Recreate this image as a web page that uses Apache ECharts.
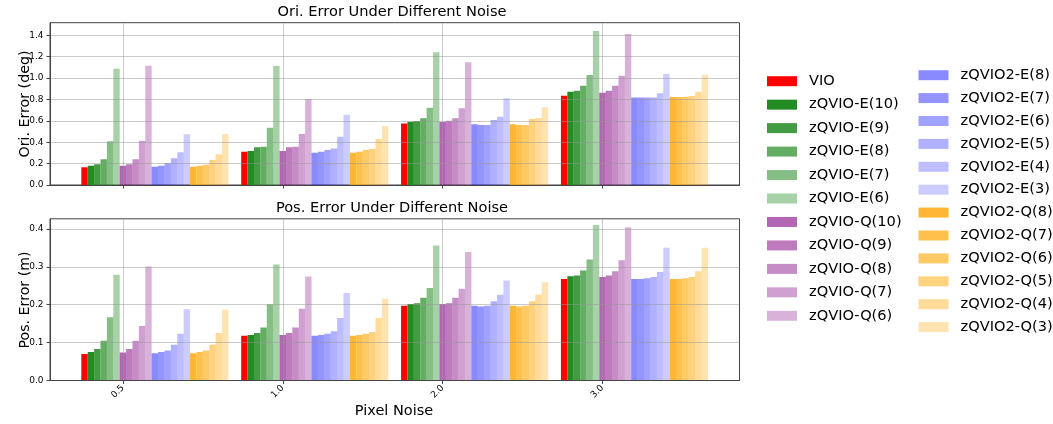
<!DOCTYPE html>
<html><head><meta charset="utf-8">
<script src="https://cdn.jsdelivr.net/npm/echarts@6/dist/echarts.min.js"></script>
<style>html,body{margin:0;padding:0;background:#fff}#c{width:1053px;height:424px}</style>
</head><body><div id="c"></div>
<script>
// ---------------- DATA ----------------
const categories = ['0.5', '1.0', '2.0', '3.0'];
const seriesNames = ['VIO',
  'zQVIO-E(10)', 'zQVIO-E(9)', 'zQVIO-E(8)', 'zQVIO-E(7)', 'zQVIO-E(6)',
  'zQVIO-Q(10)', 'zQVIO-Q(9)', 'zQVIO-Q(8)', 'zQVIO-Q(7)', 'zQVIO-Q(6)',
  'zQVIO2-E(8)', 'zQVIO2-E(7)', 'zQVIO2-E(6)', 'zQVIO2-E(5)', 'zQVIO2-E(4)', 'zQVIO2-E(3)',
  'zQVIO2-Q(8)', 'zQVIO2-Q(7)', 'zQVIO2-Q(6)', 'zQVIO2-Q(5)', 'zQVIO2-Q(4)', 'zQVIO2-Q(3)'];

// Orientation error (deg)
const ori_VIO   = [0.165, 0.311, 0.576, 0.835];
const ori_E10   = [0.180, 0.318, 0.592, 0.872];
const ori_E9    = [0.193, 0.352, 0.598, 0.882];
const ori_E8    = [0.240, 0.358, 0.623, 0.928];
const ori_E7    = [0.408, 0.536, 0.723, 1.028];
const ori_E6    = [1.087, 1.112, 1.240, 1.439];
const ori_Q10   = [0.180, 0.318, 0.589, 0.863];
const ori_Q9    = [0.193, 0.352, 0.601, 0.882];
const ori_Q8    = [0.240, 0.358, 0.623, 0.928];
const ori_Q7    = [0.414, 0.477, 0.717, 1.022];
const ori_Q6    = [1.115, 0.804, 1.147, 1.411];
const ori_E2_8  = [0.171, 0.302, 0.567, 0.819];
const ori_E2_7  = [0.180, 0.311, 0.561, 0.819];
const ori_E2_6  = [0.203, 0.327, 0.561, 0.819];
const ori_E2_5  = [0.249, 0.340, 0.607, 0.819];
const ori_E2_4  = [0.305, 0.452, 0.638, 0.857];
const ori_E2_3  = [0.474, 0.657, 0.810, 1.037];
const ori_Q2_8  = [0.171, 0.302, 0.567, 0.822];
const ori_Q2_7  = [0.180, 0.311, 0.561, 0.822];
const ori_Q2_6  = [0.190, 0.327, 0.561, 0.825];
const ori_Q2_5  = [0.234, 0.336, 0.617, 0.832];
const ori_Q2_4  = [0.287, 0.430, 0.626, 0.872];
const ori_Q2_3  = [0.477, 0.551, 0.726, 1.031];

// Position error (m)
const pos_VIO   = [0.070, 0.118, 0.197, 0.268];
const pos_E10   = [0.075, 0.120, 0.202, 0.275];
const pos_E9    = [0.083, 0.125, 0.204, 0.277];
const pos_E8    = [0.105, 0.140, 0.218, 0.290];
const pos_E7    = [0.167, 0.201, 0.244, 0.319];
const pos_E6    = [0.279, 0.306, 0.356, 0.410];
const pos_Q10   = [0.074, 0.120, 0.202, 0.273];
const pos_Q9    = [0.083, 0.125, 0.204, 0.277];
const pos_Q8    = [0.105, 0.140, 0.218, 0.288];
const pos_Q7    = [0.144, 0.189, 0.242, 0.317];
const pos_Q6    = [0.301, 0.274, 0.339, 0.404];
const pos_E2_8  = [0.072, 0.118, 0.197, 0.268];
const pos_E2_7  = [0.075, 0.120, 0.195, 0.268];
const pos_E2_6  = [0.079, 0.123, 0.197, 0.270];
const pos_E2_5  = [0.094, 0.130, 0.209, 0.273];
const pos_E2_4  = [0.123, 0.165, 0.226, 0.286];
const pos_E2_3  = [0.188, 0.231, 0.264, 0.350];
const pos_Q2_8  = [0.072, 0.118, 0.197, 0.268];
const pos_Q2_7  = [0.075, 0.120, 0.195, 0.268];
const pos_Q2_6  = [0.079, 0.123, 0.197, 0.270];
const pos_Q2_5  = [0.094, 0.128, 0.209, 0.273];
const pos_Q2_4  = [0.125, 0.165, 0.226, 0.288];
const pos_Q2_3  = [0.187, 0.216, 0.259, 0.350];

const oriTicks = [0, 0.2, 0.4, 0.6, 0.8, 1.0, 1.2, 1.4];
const posTicks = [0, 0.1, 0.2, 0.3, 0.4];

const oriSeries = [ori_VIO, ori_E10, ori_E9, ori_E8, ori_E7, ori_E6, ori_Q10, ori_Q9, ori_Q8, ori_Q7, ori_Q6,
  ori_E2_8, ori_E2_7, ori_E2_6, ori_E2_5, ori_E2_4, ori_E2_3, ori_Q2_8, ori_Q2_7, ori_Q2_6, ori_Q2_5, ori_Q2_4, ori_Q2_3];
const posSeries = [pos_VIO, pos_E10, pos_E9, pos_E8, pos_E7, pos_E6, pos_Q10, pos_Q9, pos_Q8, pos_Q7, pos_Q6,
  pos_E2_8, pos_E2_7, pos_E2_6, pos_E2_5, pos_E2_4, pos_E2_3, pos_Q2_8, pos_Q2_7, pos_Q2_6, pos_Q2_5, pos_Q2_4, pos_Q2_3];

// ---------------- STYLE ----------------
const rgba = (c, a) => `rgba(${c[0]},${c[1]},${c[2]},${a})`;
const colors = [rgba([255, 0, 0], 1)]
  .concat([1, 0.85, 0.7, 0.55, 0.4].map(a => rgba([34, 139, 34], a)))
  .concat([0.6, 0.52, 0.45, 0.37, 0.3].map(a => rgba([128, 0, 128], a)))
  .concat([0.46, 0.42, 0.37, 0.31, 0.26, 0.2].map(a => rgba([0, 0, 255], a)))
  .concat([0.8, 0.7, 0.6, 0.5, 0.4, 0.3].map(a => rgba([255, 165, 0], a)));

const BAR_W = 0.04;
const BAR_OFFSET = -0.26;
const FONT = 'DejaVu Sans';
const GRID_LINE = 'rgba(150,150,150,0.5)';
const FRAME = '#444';
const PLOT_CX = 394;

function makeSeries(k, arr, gi) {
  return {
    type: 'custom', name: seriesNames[k], xAxisIndex: gi, yAxisIndex: gi,
    z: 1, clip: true,
    itemStyle: { color: colors[k] },
    encode: { x: 0, y: 1 },
    data: arr.map((v, i) => [i, v]),
    renderItem: function (params, api) {
      const c = api.value(0), v = api.value(1);
      const x0 = c + BAR_OFFSET + k * BAR_W;
      const p0 = api.coord([x0, v]);
      const p1 = api.coord([x0 + BAR_W, 0]);
      return { type: 'rect', shape: { x: p0[0], y: p0[1], width: p1[0] - p0[0], height: p1[1] - p0[1] },
        style: { fill: colors[k] } };
    }
  };
}

function xAxis(gi, showLabel) {
  return {
    type: 'value', gridIndex: gi, min: -0.456, max: 3.857, z: 5,
    axisLine: { show: true, onZero: false, lineStyle: { color: FRAME, width: 1 } },
    axisTick: { show: true, customValues: [0, 1, 2, 3], length: 3.5, lineStyle: { color: FRAME } },
    axisLabel: { show: showLabel, customValues: [0, 1, 2, 3], rotate: 45, margin: 6,
      formatter: v => categories[Math.round(v)], fontSize: 9, fontFamily: FONT, color: '#000' },
    splitLine: { show: true, lineStyle: { color: GRID_LINE, width: 1 } }
  };
}
function yAxis(gi, max, ticks) {
  return {
    type: 'value', gridIndex: gi, min: 0, max: max, z: 5,
    axisLine: { show: true, onZero: false, lineStyle: { color: FRAME, width: 1 } },
    axisTick: { show: true, customValues: ticks, length: 3.5, lineStyle: { color: FRAME } },
    axisLabel: { customValues: ticks, margin: 6.5, formatter: v => v.toFixed(1),
      fontSize: 9, fontFamily: FONT, color: '#000' },
    splitLine: { show: true, lineStyle: { color: GRID_LINE, width: 1 } }
  };
}

const legendText = { fontSize: 14.6, fontFamily: FONT, color: '#000', lineHeight: 16, padding: [0, 0, 0, 7] };

const option = {
  animation: false,
  backgroundColor: '#fff',
  grid: [
    { left: 50, right: 313.5, top: 22.7, height: 162.3, show: true, borderColor: FRAME, borderWidth: 1 },
    { left: 50, right: 313.5, top: 218.8, height: 161.7, show: true, borderColor: FRAME, borderWidth: 1 }
  ],
  xAxis: [xAxis(0, false), xAxis(1, true)],
  yAxis: [yAxis(0, 1.517, oriTicks), yAxis(1, 0.4265, posTicks)],
  legend: [
    { orient: 'vertical', left: 767, top: 73.2, padding: 0, itemWidth: 30, itemHeight: 10, itemGap: 7.46,
      icon: 'rect', data: seriesNames.slice(0, 11), textStyle: legendText },
    { orient: 'vertical', left: 918.5, top: 67.2, padding: 0, itemWidth: 30, itemHeight: 10, itemGap: 6.9,
      icon: 'rect', data: seriesNames.slice(11), textStyle: legendText }
  ],
  graphic: [
    { type: 'text', x: PLOT_CX - 2, y: 12, style: { text: 'Ori. Error Under Different Noise', fontSize: 14.6, fontFamily: FONT, fill: '#000', align: 'center', verticalAlign: 'middle' } },
    { type: 'text', x: PLOT_CX - 2, y: 208, style: { text: 'Pos. Error Under Different Noise', fontSize: 14.6, fontFamily: FONT, fill: '#000', align: 'center', verticalAlign: 'middle' } },
    { type: 'text', x: 25, y: 104, rotation: Math.PI / 2, style: { text: 'Ori. Error (deg)', fontSize: 14.2, fontFamily: FONT, fill: '#000', align: 'center', verticalAlign: 'middle' } },
    { type: 'text', x: 25, y: 300, rotation: Math.PI / 2, style: { text: 'Pos. Error (m)', fontSize: 14.2, fontFamily: FONT, fill: '#000', align: 'center', verticalAlign: 'middle' } },
    { type: 'text', x: PLOT_CX, y: 411, style: { text: 'Pixel Noise', fontSize: 14.5, fontFamily: FONT, fill: '#000', align: 'center', verticalAlign: 'middle' } }
  ],
  series: oriSeries.map((arr, k) => makeSeries(k, arr, 0)).concat(posSeries.map((arr, k) => makeSeries(k, arr, 1)))
};

const chart = echarts.init(document.getElementById('c'), null, { renderer: 'canvas' });
chart.setOption(option);
</script>
</body></html>
